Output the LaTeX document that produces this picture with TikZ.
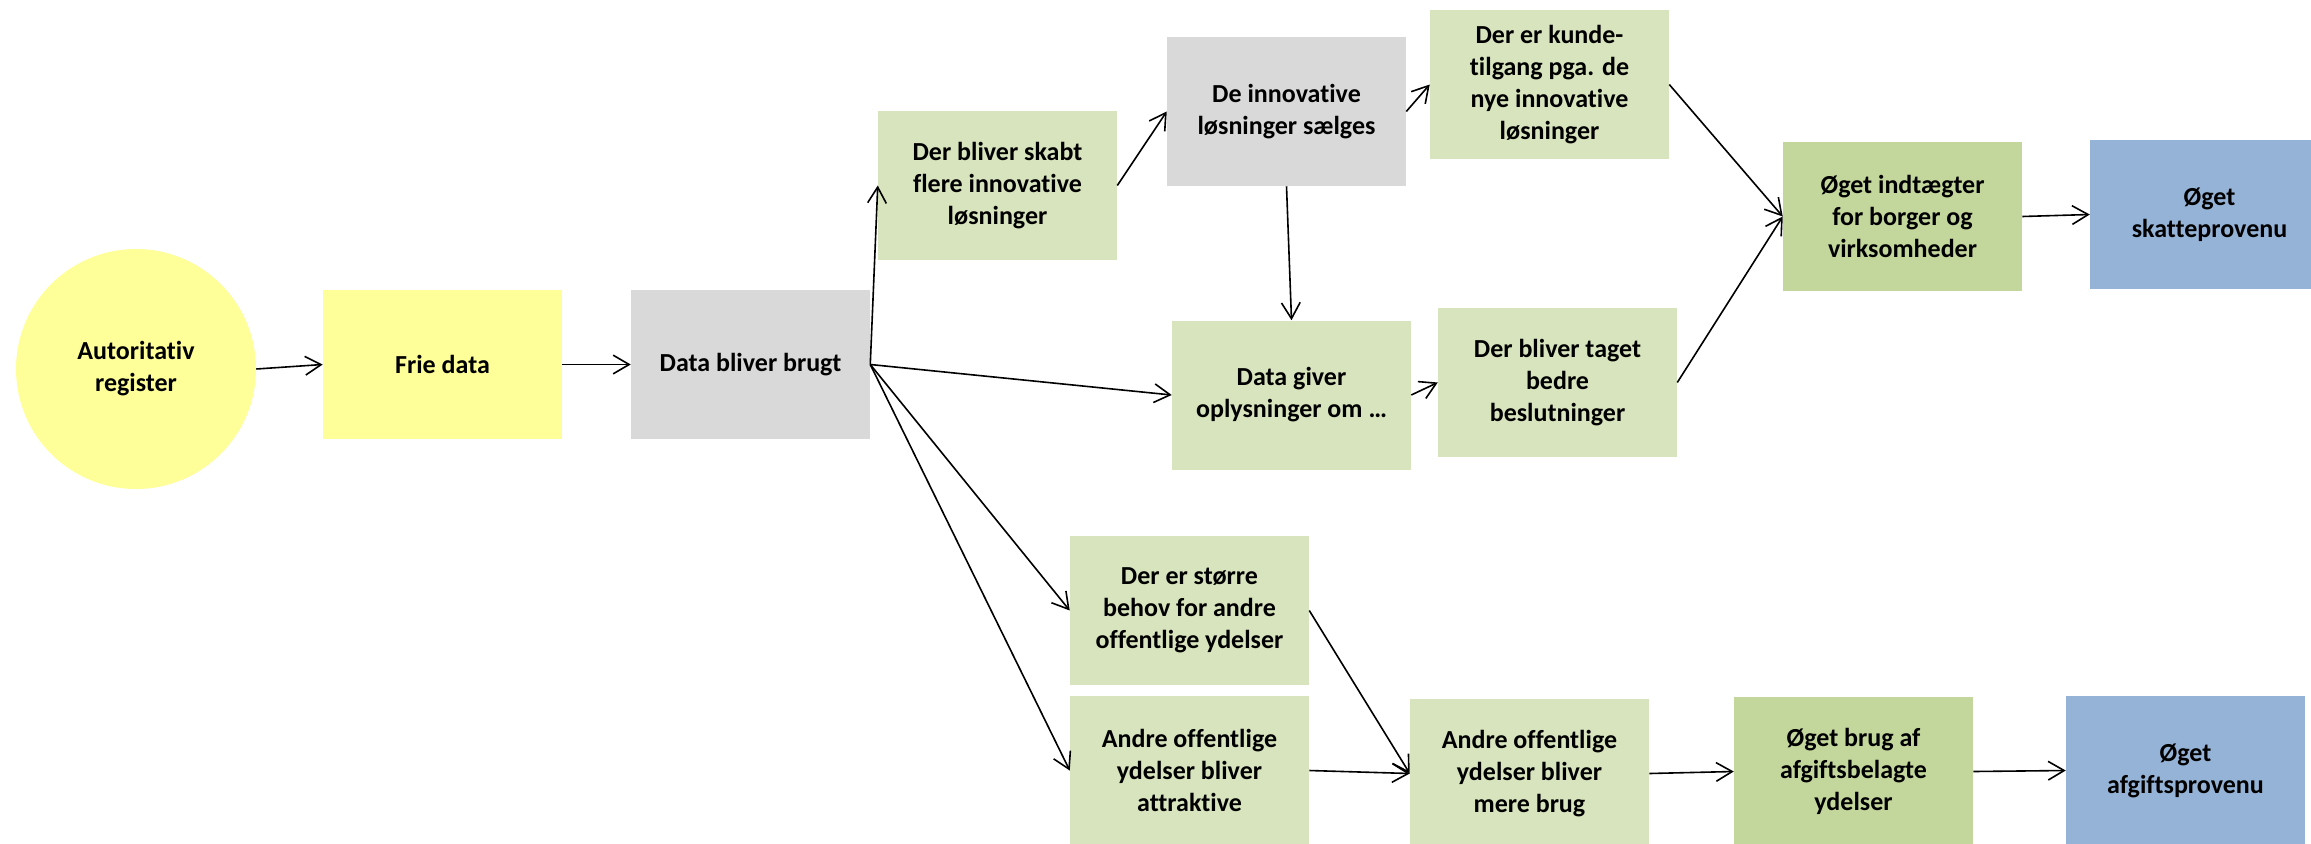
\documentclass[tikz,border=0pt]{standalone}
\usepackage{fontspec}
\setmainfont{Carlito}[Ligatures=NoCommon]
\usetikzlibrary{arrows.meta}

\definecolor{regyellow}{RGB}{255,255,153}
\definecolor{usegray}{RGB}{217,217,217}
\definecolor{stepgreen}{RGB}{215,228,189}
\definecolor{gaingreen}{RGB}{195,214,155}
\definecolor{revblue}{RGB}{149,179,215}

\begin{document}
\begin{tikzpicture}[x=0.75pt,y=-0.75pt]
\tikzstyle{every node}+=[inner sep=0pt, align=center, font=\fontsize{19.5}{24}\selectfont\bfseries]
\tikzstyle{box}=[rectangle, minimum width=179.25pt, minimum height=111.75pt]
\tikzstyle{arr}=[-{Straight Barb[length=12pt,width=14pt]}, line width=1.2pt]
\clip (0,0) rectangle (2311,843);
% start and data
\node [circle, fill=regyellow, minimum size=180pt] (reg) at (136,369) {Autoritativ\\register};
\node [box, fill=regyellow] (frie) at (442.5,364.5) {Frie data};
\node [box, fill=usegray] (brugt) at (750.5,364.5) {Data bliver brugt};
% upper branch
\node [box, fill=stepgreen] (skabt) at (997.5,185.5) {Der bliver skabt\\flere innovative\\løsninger};
\node [box, fill=usegray] (saelges) at (1286.5,111.5) {De innovative\\løsninger sælges};
\node [box, fill=stepgreen] (kunde) at (1549.5,84.5) {Der er kunde-\\tilgang pga. de\\nye innovative\\løsninger};
\node [box, fill=stepgreen] (giver) at (1291.5,395) {Data giver\\oplysninger om …};
\node [box, fill=stepgreen] (taget) at (1557.5,382.5) {Der bliver taget\\bedre\\beslutninger};
\node [box, fill=gaingreen] (indt) at (1902.5,216.5) {Øget indtægter\\for borger og\\virksomheder};
\node [box, fill=revblue] (skat) at (2209.5,214.5) {Øget\\skatteprovenu};
% lower branch
\node [box, fill=stepgreen] (stoerre) at (1189.5,610.5) {Der er større\\behov for andre\\offentlige ydelser};
\node [box, fill=stepgreen] (attr) at (1189.5,770.5) {Andre offentlige\\ydelser bliver\\attraktive};
\node [box, fill=stepgreen] (mere) at (1529.5,773.5) {Andre offentlige\\ydelser bliver\\mere brug};
\node [box, fill=gaingreen] (brug) at (1853.5,771.5) {Øget brug af\\afgiftsbelagte\\ydelser};
\node [box, fill=revblue] (afgift) at (2185.5,770.5) {Øget\\afgiftsprovenu};
% connectors
\draw [arr] (reg.east) -- (frie.west);
\draw [arr] (frie.east) -- (brugt.west);
\draw [arr] (brugt.east) -- (skabt.west);
\draw [arr] (skabt.east) -- (saelges.west);
\draw [arr] (saelges.east) -- (kunde.west);
\draw [arr] (saelges.south) -- (giver.north);
\draw [arr] (brugt.east) -- (giver.west);
\draw [arr] (giver.east) -- (taget.west);
\draw [arr] (kunde.east) -- (indt.west);
\draw [arr] (taget.east) -- (indt.west);
\draw [arr] (indt.east) -- (skat.west);
\draw [arr] (brugt.east) -- (stoerre.west);
\draw [arr] (brugt.east) -- (attr.west);
\draw [arr] (stoerre.east) -- (mere.west);
\draw [arr] (attr.east) -- (mere.west);
\draw [arr] (mere.east) -- (brug.west);
\draw [arr] (brug.east) -- (afgift.west);
\end{tikzpicture}
\end{document}
